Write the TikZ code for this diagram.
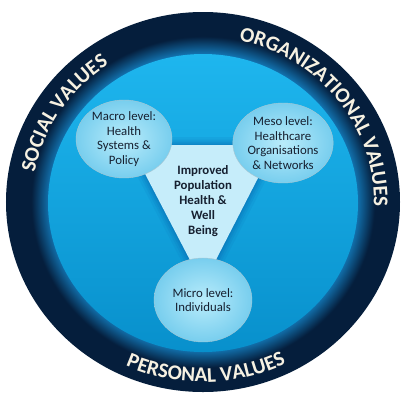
\documentclass[tikz,border=0pt]{standalone}
\usepackage{fontspec}
\setmainfont{Carlito}
\usepackage{tikz}
\usetikzlibrary{shapes.geometric,decorations.text}
\definecolor{ringnavy}{RGB}{5,30,60}
\definecolor{ringglow}{RGB}{18,112,172}
\definecolor{disctop}{RGB}{30,182,238}
\definecolor{discmid}{RGB}{12,162,216}
\definecolor{discbottom}{RGB}{8,144,204}
\definecolor{bubblein}{RGB}{185,236,251}
\definecolor{bubbleout}{RGB}{120,206,238}
\definecolor{wedge}{RGB}{198,237,250}
\definecolor{wedgeglow}{RGB}{8,104,176}
\definecolor{cream}{RGB}{246,241,226}
\definecolor{inktext}{RGB}{22,32,48}
\pgfdeclareradialshading{ringshade}{\pgfpoint{0bp}{0bp}}{color(0bp)=(ringglow); color(19.6bp)=(ringglow); color(21.8bp)=(ringnavy); color(25bp)=(ringnavy); color(50bp)=(ringnavy)}
\newcommand{\ringfont}{\bfseries\fontsize{21}{21}\selectfont}

\begin{document}
\begin{tikzpicture}[x=1pt,y=1pt,
    level/.style={ellipse,inner color=bubblein,outer color=bubbleout,draw=bubbleout!70!black!50,line width=0.4pt,text=inktext,align=center,inner sep=0pt,font=\fontsize{12.8}{14.5}\selectfont},
    ringtext/.style={decorate,decoration={text along path,text align=center,text color=cream,text={|\ringfont|#1}}}]
			\useasboundingbox (-203,-198) rectangle (203,202);
			\shade[shading=ringshade] (0,0) ellipse[x radius=197,y radius=190];
			\shade[top color=disctop,middle color=discmid,bottom color=discbottom] (0,-1) ellipse[x radius=155,y radius=149];
			\coordinate (tl) at (-73,57);
			\coordinate (tr) at (72,57);
			\coordinate (apex) at (0,-83);
			\foreach \w/\o in {16/0.10,11/0.14,7/0.18,3/0.25}
				\draw[wedgeglow,line width=\w,opacity=\o,line join=round] (tl) -- (tr) -- (apex) -- cycle;
			\fill[wedge] (tl) -- (tr) -- (apex) -- cycle;
			\node[level,minimum width=96pt,minimum height=78pt] (macro) at (-79,63) {Macro level:\\Health\\Systems \&\\Policy};
			\node[level,minimum width=100pt,minimum height=80pt] (meso) at (80,59) {Meso level:\\Healthcare\\Organisations\\\& Networks};
			\node[level,minimum width=98pt,minimum height=84pt] (micro) at (0,-98) {Micro level:\\Individuals};
			\node[text=inktext,align=center,font=\bfseries\fontsize{12.8}{15}\selectfont] (goal) at (0,1) {Improved\\Population\\Health \&\\Well\\Being};
			\path[ringtext=SOCIAL VALUES] (195:171 and 165) arc[start angle=195,end angle=99,x radius=171,y radius=165];
			\path[ringtext=ORGANIZATIONAL VALUES] (86:171 and 165) arc[start angle=86,end angle=-10,x radius=171,y radius=165];
			\path[ringtext=PERSONAL VALUES] (222:187 and 180) arc[start angle=222,end angle=320,x radius=187,y radius=180];
		\end{tikzpicture}
\end{document}
